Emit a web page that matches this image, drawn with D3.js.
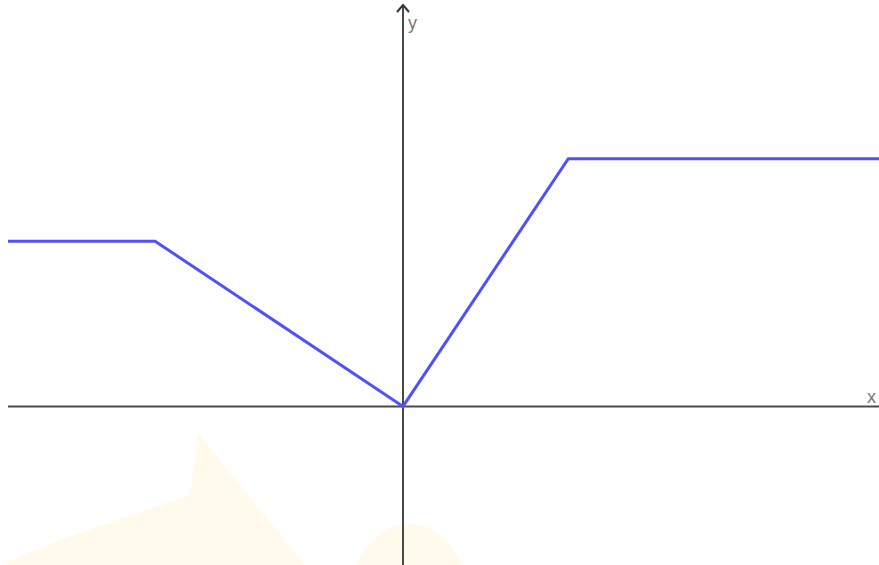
<!DOCTYPE html>
<html>
<head>
<meta charset="utf-8">
<script src="https://cdn.jsdelivr.net/npm/d3@7"></script>
<style>
  html, body { margin: 0; padding: 0; background: #fff; }
  svg { display: block; }
</style>
</head>
<body>
<svg id="chart" width="879" height="565"></svg>
<script>
// piecewise function (1 unit ~ 82.6px)
const xValues = [-4.78, -3, 0, 2, 5.76];
const yValues = [2, 2, 0, 3, 3];
const xDomain = [-4.78, 5.76];
const yDomain = [-1.92, 4.86];

const width = 879, height = 565;
const svg = d3.select("#chart");

const x = d3.scaleLinear().domain(xDomain).range([8, width]);
const y = d3.scaleLinear().domain(yDomain).range([height, 5]);

// faint watermark in the background
const wm = svg.append("g").attr("fill", "#fffaec");
wm.append("path").attr("d", "M0,565 L60,540 L190,495 L198,433 L305,565 Z");
wm.append("path").attr("d", "M356,565 C370,535 395,520 420,525 C440,530 455,550 462,565 Z");

// axes
svg.append("line")
    .attr("x1", x(xDomain[0])).attr("x2", x(xDomain[1]))
    .attr("y1", y(0)).attr("y2", y(0))
    .attr("stroke", "#4a4a4a").attr("stroke-width", 2);

svg.append("line")
    .attr("x1", x(0)).attr("x2", x(0))
    .attr("y1", y(yDomain[0])).attr("y2", y(yDomain[1]) + 1)
    .attr("stroke", "#4a4a4a").attr("stroke-width", 2);

// arrow head on y axis
const tip = y(yDomain[1]);
svg.append("path")
    .attr("d", `M${x(0) - 6},${tip + 7} L${x(0)},${tip} L${x(0) + 6},${tip + 7}`)
    .attr("fill", "none").attr("stroke", "#333").attr("stroke-width", 2);

svg.append("text")
    .attr("x", x(0) + 5).attr("y", tip + 24)
    .attr("font-family", "Liberation Sans, Arial, sans-serif")
    .attr("font-size", 18).attr("fill", "#777")
    .text("y");

svg.append("text")
    .attr("x", width - 12).attr("y", y(0) - 3)
    .attr("font-family", "Liberation Sans, Arial, sans-serif")
    .attr("font-size", 18).attr("fill", "#777")
    .text("x");

// the function
const line = d3.line()
    .x((d, i) => x(xValues[i]))
    .y(d => y(d));

svg.append("path")
    .datum(yValues)
    .attr("d", line)
    .attr("fill", "none")
    .attr("stroke", "#5050ff")
    .attr("stroke-width", 3)
    .attr("stroke-linejoin", "miter");
</script>
</body>
</html>
